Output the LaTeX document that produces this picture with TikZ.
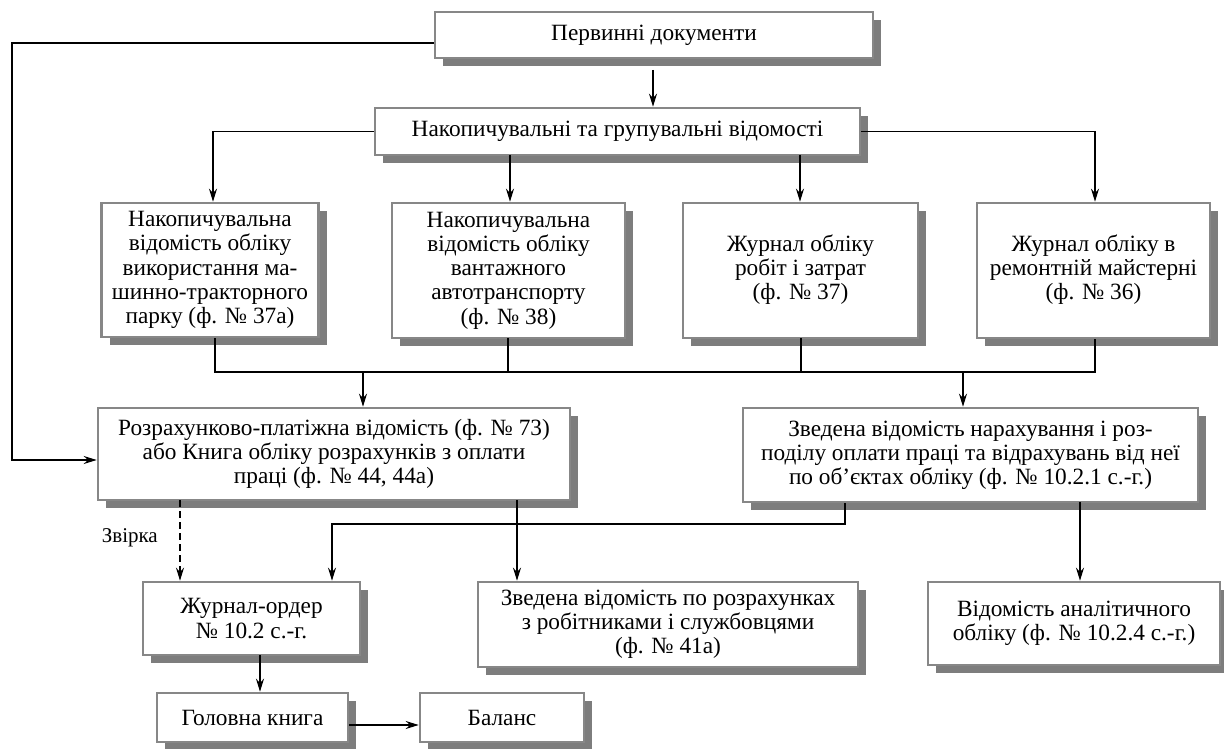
\documentclass[tikz,border=0pt]{standalone}
\usepackage{fontspec}
\setmainfont{Liberation Serif}
\usetikzlibrary{arrows.meta,shadows,calc}
\definecolor{shgray}{RGB}{125,125,125}
\definecolor{bdgray}{RGB}{135,135,135}
\newcommand{\upblock}[1]{\raisebox{6pt}{\begin{tabular}{@{}c@{}}#1\end{tabular}}}
\begin{document}
\begin{tikzpicture}[x=1pt,y=-1pt,
  bx/.style={draw=bdgray,line width=2.6pt,fill=white,inner sep=0pt,align=center,
    font=\fontsize{23.3}{24.2}\selectfont,
    drop shadow={shadow xshift=8pt,shadow yshift=-8pt,fill=shgray,opacity=1}},
  conn/.style={line width=1.4pt,black},
  arr/.style={conn,-{Stealth[length=13pt,width=8pt]}},
  lbl/.style={font=\fontsize{21}{24}\selectfont,inner sep=0pt}]
\useasboundingbox (0,0) rectangle (1224,749);
% nodes
\node[bx,minimum width=438pt,minimum height=46pt] (P) at (654,35) {Первинні документи};
\node[bx,minimum width=485pt,minimum height=47pt] (N) at (617.5,131.5) {Накопичувальні та групувальні відомості};
\node[bx,minimum width=217pt,minimum height=134pt] (B1) at (210,270) {Накопичувальна\\відомість обліку\\використання ма-\\шинно-тракторного\\парку (ф. № 37а)};
\node[bx,minimum width=233pt,minimum height=135pt] (B2) at (508.5,270.5) {Накопичувальна\\відомість обліку\\вантажного\\автотранспорту\\(ф. № 38)};
\node[bx,minimum width=235pt,minimum height=135pt] (B3) at (800.5,270.5) {\upblock{Журнал обліку\\робіт і затрат\\(ф. № 37)}};
\node[bx,minimum width=233pt,minimum height=135pt] (B4) at (1093.5,270.5) {\upblock{Журнал обліку в\\ремонтній майстерні\\(ф. № 36)}};
\node[bx,minimum width=472pt,minimum height=92pt] (R) at (334,454) {Розрахунково-платіжна відомість (ф. № 73)\\або Книга обліку розрахунків з оплати\\праці (ф. № 44, 44а)};
\node[bx,minimum width=455pt,minimum height=94pt] (Z) at (970.5,455) {Зведена відомість нарахування і роз-\\поділу оплати праці та відрахувань від неї\\по об’єктах обліку (ф. № 10.2.1 с.-г.)};
\node[bx,minimum width=217pt,minimum height=73pt] (J) at (251.5,618.5) {Журнал-ордер\\№ 10.2 с.-г.};
\node[bx,minimum width=380pt,minimum height=85pt] (S) at (668,624.5) {Зведена відомість по розрахунках\\з робітниками і службовцями\\(ф. № 41а)};
\node[bx,minimum width=292pt,minimum height=83pt] (V) at (1074,623.5) {Відомість аналітичного\\обліку (ф. № 10.2.4 с.-г.)};
\node[bx,minimum width=191pt,minimum height=49pt] (G) at (252.5,717.5) {Головна книга};
\node[bx,minimum width=164pt,minimum height=49pt] (Bal) at (502,717.5) {Баланс};
\node[lbl,anchor=east] (zv) at (158,538) {Звірка};
% coordinates
\coordinate (l1) at (12,43);
\coordinate (l2) at (12,460);
\coordinate (nl) at (213,131.5);
\coordinate (nr) at (1095,131.5);
\coordinate (bus1) at (215,372);
\coordinate (bus2) at (1095,372);
\coordinate (bb2) at (508,338);
\coordinate (bb3) at (801,338);
\coordinate (ra) at (363,372);
\coordinate (za) at (963,372);
\coordinate (zd1) at (845,524);
\coordinate (zd2) at (332,524);
\coordinate (dsh) at (180,500);
\coordinate (rs) at (517,500);
\coordinate (zv1) at (1080,502);
\coordinate (pn) at (653,70);
\coordinate (n2) at (510,155);
\coordinate (n3) at (800,155);
\coordinate (jg) at (260,655);
% connectors
\draw[arr] (P.west |- l1) -- (l1) -- (l2) -- (R.west |- l2);
\draw[arr] (pn) -- (pn |- N.north);
\draw[arr] (N.west) -- (nl) -- (nl |- B1.north);
\draw[arr] (N.east) -- (nr) -- (nr |- B4.north);
\draw[arr] (n2) -- (n2 |- B2.north);
\draw[arr] (n3) -- (n3 |- B3.north);
\draw[conn] (B1.south -| bus1) -- (bus1) -- (bus2) -- (B4.south -| bus2);
\draw[conn] (bb2) -- (bb2 |- bus1);
\draw[conn] (bb3) -- (bb3 |- bus1);
\draw[arr] (ra) -- (ra |- R.north);
\draw[arr] (za) -- (za |- Z.north);
\draw[arr,dashed,dash pattern=on 7pt off 4pt] (dsh) -- (dsh |- J.north);
\draw[arr] (rs) -- (rs |- S.north);
\draw[arr] (Z.south -| zd1) -- (zd1) -- (zd2) -- (zd2 |- J.north);
\draw[arr] (zv1) -- (zv1 |- V.north);
\draw[arr] (jg) -- (jg |- G.north);
\draw[arr] (G.east |- 0,725) -- (Bal.west |- 0,725);
\end{tikzpicture}
\end{document}
